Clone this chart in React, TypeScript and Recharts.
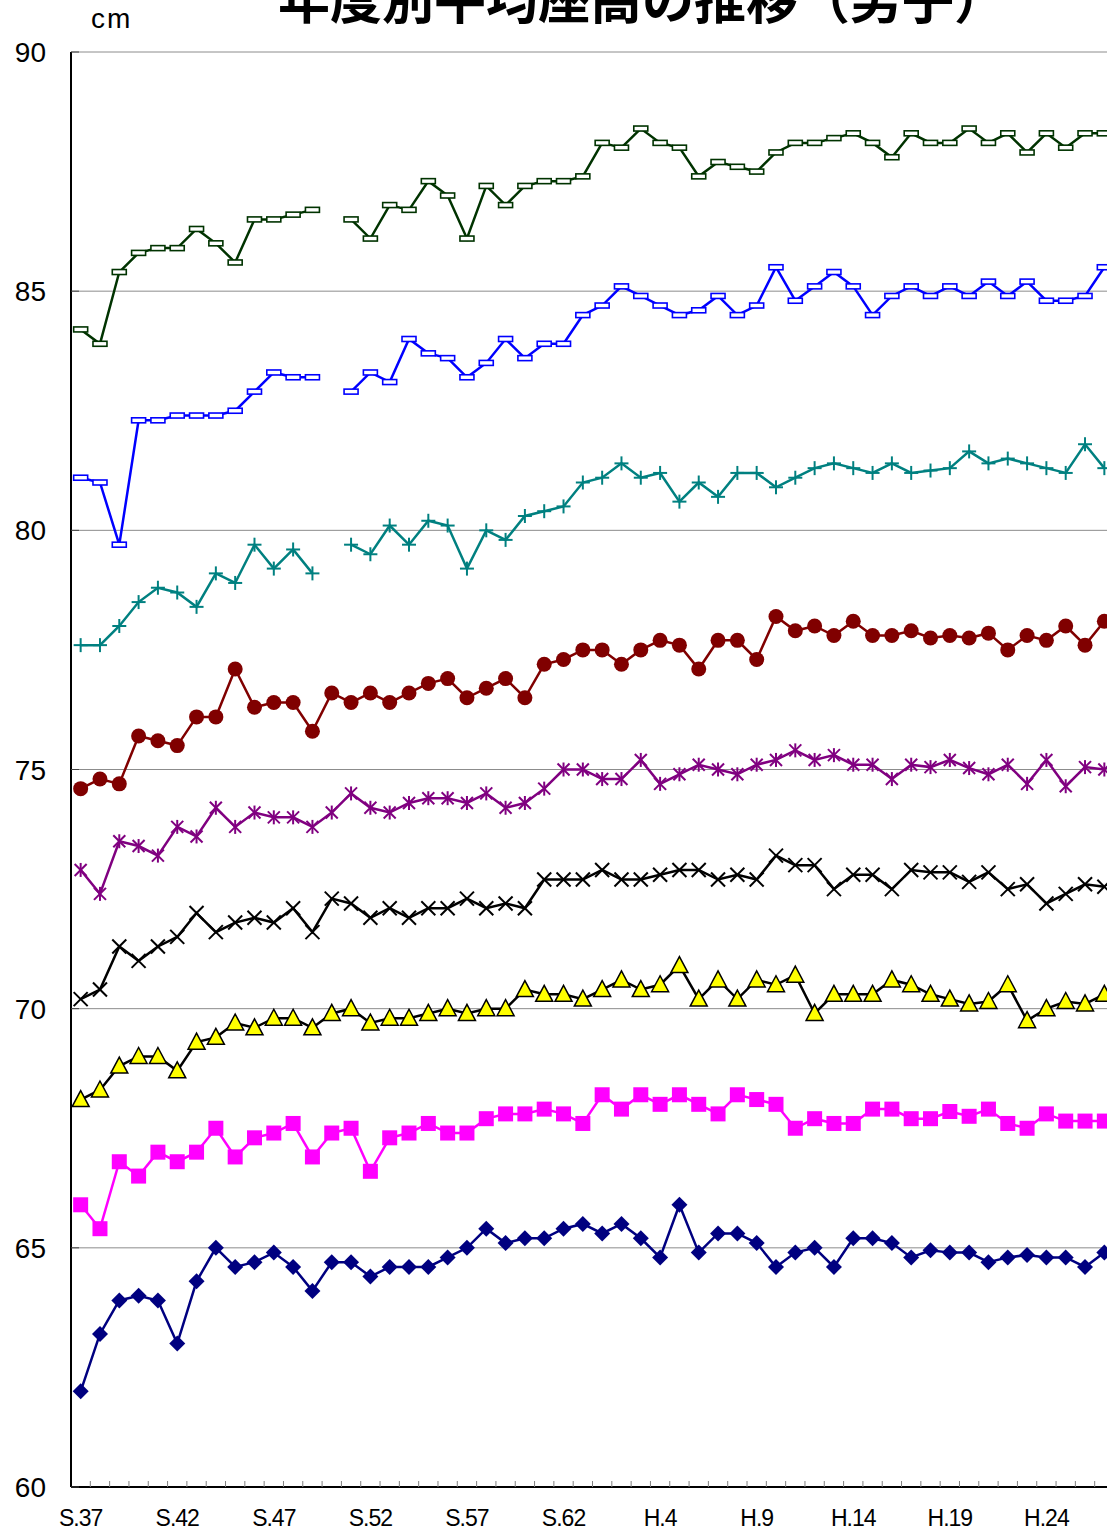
import React from "react"
import { CartesianGrid, Line, LineChart, XAxis, YAxis } from "recharts"

// school years, Showa 37 .. Heisei 27
const years = [
  "S.37", "S.38", "S.39", "S.40", "S.41", "S.42", "S.43", "S.44", "S.45", "S.46",
  "S.47", "S.48", "S.49", "S.50", "S.51", "S.52", "S.53", "S.54", "S.55", "S.56",
  "S.57", "S.58", "S.59", "S.60", "S.61", "S.62", "S.63", "H.1", "H.2", "H.3",
  "H.4", "H.5", "H.6", "H.7", "H.8", "H.9", "H.10", "H.11", "H.12", "H.13",
  "H.14", "H.15", "H.16", "H.17", "H.18", "H.19", "H.20", "H.21", "H.22", "H.23",
  "H.24", "H.25", "H.26", "H.27",
]

const labeledYears = ["S.37", "S.42", "S.47", "S.52", "S.57", "S.62", "H.4", "H.9", "H.14", "H.19", "H.24"]
const yTicks = [60, 65, 70, 75, 80, 85, 90]

const greenDash = [
  84.2, 83.9, 85.4, 85.8, 85.9, 85.9, 86.3, 86.0, 85.6, 86.5, 86.5, 86.6, 86.7, null,
  86.5, 86.1, 86.8, 86.7, 87.3, 87.0, 86.1, 87.2, 86.8, 87.2, 87.3, 87.3, 87.4,
  88.1, 88.0, 88.4, 88.1, 88.0, 87.4, 87.7, 87.6, 87.5, 87.9, 88.1, 88.1, 88.2, 88.3,
  88.1, 87.8, 88.3, 88.1, 88.1, 88.4, 88.1, 88.3, 87.9, 88.3, 88.0, 88.3, 88.3,
]
const blueDash = [
  81.1, 81.0, 79.7, 82.3, 82.3, 82.4, 82.4, 82.4, 82.5, 82.9, 83.3, 83.2, 83.2, null,
  82.9, 83.3, 83.1, 84.0, 83.7, 83.6, 83.2, 83.5, 84.0, 83.6, 83.9, 83.9, 84.5,
  84.7, 85.1, 84.9, 84.7, 84.5, 84.6, 84.9, 84.5, 84.7, 85.5, 84.8, 85.1, 85.4, 85.1,
  84.5, 84.9, 85.1, 84.9, 85.1, 84.9, 85.2, 84.9, 85.2, 84.8, 84.8, 84.9, 85.5,
]
const tealPlus = [
  77.6, 77.6, 78.0, 78.5, 78.8, 78.7, 78.4, 79.1, 78.9, 79.7, 79.2, 79.6, 79.1, null,
  79.7, 79.5, 80.1, 79.7, 80.2, 80.1, 79.2, 80.0, 79.8, 80.3, 80.4, 80.5, 81.0,
  81.1, 81.4, 81.1, 81.2, 80.6, 81.0, 80.7, 81.2, 81.2, 80.9, 81.1, 81.3, 81.4, 81.3,
  81.2, 81.4, 81.2, 81.25, 81.3, 81.65, 81.4, 81.5, 81.4, 81.3, 81.2, 81.8, 81.3,
]
const redCircle = [
  74.6, 74.8, 74.7, 75.7, 75.6, 75.5, 76.1, 76.1, 77.1, 76.3, 76.4, 76.4, 75.8, 76.6,
  76.4, 76.6, 76.4, 76.6, 76.8, 76.9, 76.5, 76.7, 76.9, 76.5, 77.2, 77.3, 77.5,
  77.5, 77.2, 77.5, 77.7, 77.6, 77.1, 77.7, 77.7, 77.3, 78.2, 77.9, 78.0, 77.8, 78.1,
  77.8, 77.8, 77.9, 77.75, 77.8, 77.75, 77.85, 77.5, 77.8, 77.7, 78.0, 77.6, 78.1,
]
const purpleStar = [
  72.9, 72.4, 73.5, 73.4, 73.2, 73.8, 73.6, 74.2, 73.8, 74.1, 74.0, 74.0, 73.8, 74.1,
  74.5, 74.2, 74.1, 74.3, 74.4, 74.4, 74.3, 74.5, 74.2, 74.3, 74.6, 75.0, 75.0,
  74.8, 74.8, 75.2, 74.7, 74.9, 75.1, 75.0, 74.9, 75.1, 75.2, 75.4, 75.2, 75.3, 75.1,
  75.1, 74.8, 75.1, 75.05, 75.2, 75.03, 74.9, 75.1, 74.7, 75.2, 74.65, 75.05, 75.0,
]
const blackCross = [
  70.2, 70.4, 71.3, 71.0, 71.3, 71.5, 72.0, 71.6, 71.8, 71.9, 71.8, 72.1, 71.6, 72.3,
  72.2, 71.9, 72.1, 71.9, 72.1, 72.1, 72.3, 72.1, 72.2, 72.1, 72.7, 72.7, 72.7,
  72.9, 72.7, 72.7, 72.8, 72.9, 72.9, 72.7, 72.8, 72.7, 73.2, 73.0, 73.0, 72.5, 72.8,
  72.8, 72.5, 72.9, 72.85, 72.85, 72.65, 72.85, 72.5, 72.6, 72.2, 72.4, 72.6, 72.55,
]
const yellowTriangle = [
  68.1, 68.3, 68.8, 69.0, 69.0, 68.7, 69.3, 69.4, 69.7, 69.6, 69.8, 69.8, 69.6, 69.9,
  70.0, 69.7, 69.8, 69.8, 69.9, 70.0, 69.9, 70.0, 70.0, 70.4, 70.3, 70.3, 70.2,
  70.4, 70.6, 70.4, 70.5, 70.9, 70.2, 70.6, 70.2, 70.6, 70.5, 70.7, 69.9, 70.3, 70.3,
  70.3, 70.6, 70.5, 70.3, 70.2, 70.1, 70.15, 70.5, 69.75, 70.0, 70.15, 70.1, 70.3,
]
const magentaSquare = [
  65.9, 65.4, 66.8, 66.5, 67.0, 66.8, 67.0, 67.5, 66.9, 67.3, 67.4, 67.6, 66.9, 67.4,
  67.5, 66.6, 67.3, 67.4, 67.6, 67.4, 67.4, 67.7, 67.8, 67.8, 67.9, 67.8, 67.6,
  68.2, 67.9, 68.2, 68.0, 68.2, 68.0, 67.8, 68.2, 68.1, 68.0, 67.5, 67.7, 67.6, 67.6,
  67.9, 67.9, 67.7, 67.7, 67.85, 67.75, 67.9, 67.6, 67.5, 67.8, 67.65, 67.65, 67.65,
]
const navyDiamond = [
  62.0, 63.2, 63.9, 64.0, 63.9, 63.0, 64.3, 65.0, 64.6, 64.7, 64.9, 64.6, 64.1, 64.7,
  64.7, 64.4, 64.6, 64.6, 64.6, 64.8, 65.0, 65.4, 65.1, 65.2, 65.2, 65.4, 65.5,
  65.3, 65.5, 65.2, 64.8, 65.9, 64.9, 65.3, 65.3, 65.1, 64.6, 64.9, 65.0, 64.6, 65.2,
  65.2, 65.1, 64.8, 64.95, 64.9, 64.9, 64.7, 64.8, 64.85, 64.8, 64.8, 64.6, 64.9,
]

const data = years.map((name, i) => ({
  name,
  greenDash: greenDash[i],
  blueDash: blueDash[i],
  tealPlus: tealPlus[i],
  redCircle: redCircle[i],
  purpleStar: purpleStar[i],
  blackCross: blackCross[i],
  yellowTriangle: yellowTriangle[i],
  magentaSquare: magentaSquare[i],
  navyDiamond: navyDiamond[i],
}))

const W = 1114
const H = 1532
const AXIS_W = 71
const BAND = (W - AXIS_W) / years.length
const NUM_FONT = '"Liberation Sans", Arial, sans-serif'
const JP_FONT = '"Noto Sans CJK JP", sans-serif'

const ok = (p: any) => Number.isFinite(p.cx) && Number.isFinite(p.cy) && p.value != null

// marker shapes, roughly as in the spreadsheet chart
const dashDot = (color: string) => (p: any) =>
  !ok(p) ? <g key={p.index} /> : (
    <rect key={p.index} x={p.cx - 7} y={p.cy - 2.5} width={14} height={5} fill="#fff" stroke={color} strokeWidth={1.6} />
  )

const plusDot = (color: string) => (p: any) =>
  !ok(p) ? <g key={p.index} /> : (
    <g key={p.index} stroke={color} strokeWidth={2}>
      <line x1={p.cx - 7} x2={p.cx + 7} y1={p.cy} y2={p.cy} />
      <line x1={p.cx} x2={p.cx} y1={p.cy - 7} y2={p.cy + 7} />
    </g>
  )

const circleDot = (color: string) => (p: any) =>
  !ok(p) ? <g key={p.index} /> : <circle key={p.index} cx={p.cx} cy={p.cy} r={7.5} fill={color} />

const starDot = (color: string) => (p: any) =>
  !ok(p) ? <g key={p.index} /> : (
    <g key={p.index} stroke={color} strokeWidth={2}>
      <line x1={p.cx - 6} x2={p.cx + 6} y1={p.cy - 6} y2={p.cy + 6} />
      <line x1={p.cx - 6} x2={p.cx + 6} y1={p.cy + 6} y2={p.cy - 6} />
      <line x1={p.cx} x2={p.cx} y1={p.cy - 7} y2={p.cy + 7} />
    </g>
  )

const crossDot = (color: string) => (p: any) =>
  !ok(p) ? <g key={p.index} /> : (
    <g key={p.index} stroke={color} strokeWidth={2}>
      <line x1={p.cx - 7} x2={p.cx + 7} y1={p.cy - 7} y2={p.cy + 7} />
      <line x1={p.cx - 7} x2={p.cx + 7} y1={p.cy + 7} y2={p.cy - 7} />
    </g>
  )

const triangleDot = (p: any) =>
  !ok(p) ? <g key={p.index} /> : (
    <polygon
      key={p.index}
      points={`${p.cx},${p.cy - 9} ${p.cx - 8.5},${p.cy + 7} ${p.cx + 8.5},${p.cy + 7}`}
      fill="#ffff00"
      stroke="#000"
      strokeWidth={1.5}
    />
  )

const squareDot = (color: string) => (p: any) =>
  !ok(p) ? <g key={p.index} /> : <rect key={p.index} x={p.cx - 7.5} y={p.cy - 7.5} width={15} height={15} fill={color} />

const diamondDot = (color: string) => (p: any) =>
  !ok(p) ? <g key={p.index} /> : (
    <polygon key={p.index} points={`${p.cx},${p.cy - 8} ${p.cx + 8},${p.cy} ${p.cx},${p.cy + 8} ${p.cx - 8},${p.cy}`} fill={color} />
  )

function XTick({ x, y, payload }: any) {
  const show = labeledYears.includes(payload.value)
  return (
    <g>
      <line x1={x + BAND / 2} x2={x + BAND / 2} y1={y} y2={y - 6} stroke="#808080" strokeWidth={1} />
      {show && (
        <text x={x} y={y + 39} textAnchor="middle" fontSize={23} letterSpacing={-1} fontFamily={NUM_FONT} fill="#000">
          {payload.value}
        </text>
      )}
    </g>
  )
}

function YTick({ x, y, payload }: any) {
  return (
    <g>
      <line x1={x + 25} x2={x + 33} y1={y} y2={y} stroke="#404040" strokeWidth={1} />
      <text x={x} y={y} dy="0.36em" textAnchor="end" fontSize={28} fontFamily={NUM_FONT} fill="#000">
        {payload.value}
      </text>
    </g>
  )
}

export default function App() {
  return (
    <div style={{ position: "absolute", left: 0, top: 0, width: 1107, height: H, overflow: "hidden", background: "#fff" }}>
      <LineChart width={W} height={H} data={data} margin={{ top: 52, right: 0, bottom: 0, left: 0 }}>
        <CartesianGrid horizontal vertical={false} stroke="#8c8c8c" strokeWidth={1} />
        <XAxis
          dataKey="name"
          height={45}
          interval={0}
          padding={{ left: BAND / 2, right: BAND / 2 }}
          tickSize={0}
          tickMargin={0}
          tickLine={false}
          axisLine={{ stroke: "#000", strokeWidth: 2 }}
          tick={<XTick />}
        />
        <YAxis
          width={AXIS_W}
          domain={[60, 90]}
          ticks={yTicks}
          interval={0}
          tickSize={0}
          tickMargin={25}
          tickLine={false}
          axisLine={{ stroke: "#000", strokeWidth: 2 }}
          tick={<YTick />}
        />
        <Line dataKey="greenDash" stroke="#003300" strokeWidth={2.5} dot={dashDot("#003300")} activeDot={false} isAnimationActive={false} />
        <Line dataKey="blueDash" stroke="#0000ff" strokeWidth={2.5} dot={dashDot("#0000ff")} activeDot={false} isAnimationActive={false} />
        <Line dataKey="tealPlus" stroke="#008080" strokeWidth={2.5} dot={plusDot("#008080")} activeDot={false} isAnimationActive={false} />
        <Line dataKey="redCircle" stroke="#800000" strokeWidth={2.5} dot={circleDot("#800000")} activeDot={false} isAnimationActive={false} />
        <Line dataKey="purpleStar" stroke="#800080" strokeWidth={2.5} dot={starDot("#800080")} activeDot={false} isAnimationActive={false} />
        <Line dataKey="blackCross" stroke="#000000" strokeWidth={2.5} dot={crossDot("#000000")} activeDot={false} isAnimationActive={false} />
        <Line dataKey="yellowTriangle" stroke="#000000" strokeWidth={2.5} dot={triangleDot} activeDot={false} isAnimationActive={false} />
        <Line dataKey="magentaSquare" stroke="#ff00ff" strokeWidth={2.5} dot={squareDot("#ff00ff")} activeDot={false} isAnimationActive={false} />
        <Line dataKey="navyDiamond" stroke="#000080" strokeWidth={2.5} dot={diamondDot("#000080")} activeDot={false} isAnimationActive={false} />
      </LineChart>
      <div
        style={{
          position: "absolute",
          left: 278,
          top: -29,
          fontSize: 52,
          lineHeight: "52px",
          fontWeight: 700,
          fontFamily: JP_FONT,
          whiteSpace: "nowrap",
          color: "#000",
        }}
      >
        年度別平均座高の推移（男子）
      </div>
      <div
        style={{
          position: "absolute",
          left: 91,
          top: 5,
          fontSize: 28,
          lineHeight: "28px",
          letterSpacing: 2,
          fontFamily: NUM_FONT,
          color: "#000",
        }}
      >
        cm
      </div>
    </div>
  )
}
